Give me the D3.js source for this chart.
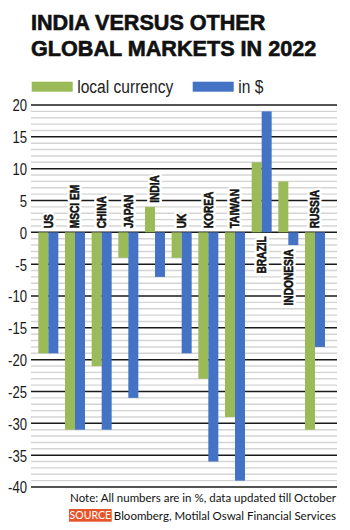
<!DOCTYPE html>
<html>
<head>
<meta charset="utf-8">
<script src="https://cdn.jsdelivr.net/npm/d3@7"></script>
<style>
  html, body { margin: 0; padding: 0; background: #fff; }
  svg { display: block; }
</style>
</head>
<body>
<svg id="chart" width="350" height="530"></svg>
<script>
// Market returns in 2022 (%), local currency vs US dollar terms
const markets = ["US", "MSCI EM", "CHINA", "JAPAN", "INDIA", "UK", "KOREA", "TAIWAN", "BRAZIL", "INDONESIA", "RUSSIA"];
const localCurrency = [-19, -31, -21, -4, 4, -4, -23, -29, 11, 8, -31];
const inDollars = [-19, -31, -31, -26, -7, -19, -36, -39, 19, -2, -18];
const seriesNames = ["local currency", "in $"];
const yTicks = [20, 15, 10, 5, 0, -5, -10, -15, -20, -25, -30, -35, -40];

const colors = { green: "#9bbb59", blue: "#4472c4" };
const sans = "'Liberation Sans', Arial, sans-serif";
const narrow = 0.82; // horizontal squeeze for a condensed look

const svg = d3.select("#chart");

// Title
const title = svg.append("g")
  .attr("font-family", sans)
  .attr("font-weight", "bold")
  .attr("font-size", 21.6)
  .attr("fill", "#111")
  .attr("stroke", "#111")
  .attr("stroke-width", 0.6);
title.append("text").attr("x", 31).attr("y", 30).text("INDIA VERSUS OTHER");
title.append("text").attr("x", 31).attr("y", 56).text("GLOBAL MARKETS IN 2022");

// Legend
const legend = svg.append("g").attr("font-family", sans).attr("font-size", 19).attr("fill", "#222");
const legendX = [31.7, 192.7];
seriesNames.forEach((name, i) => {
  legend.append("rect")
    .attr("x", legendX[i]).attr("y", 81.7)
    .attr("width", 41).attr("height", 10)
    .attr("fill", i === 0 ? colors.green : colors.blue);
  legend.append("text")
    .attr("transform", `translate(${legendX[i] + 45.5},93) scale(${narrow},1)`)
    .text(name);
});

// Scales
const y = d3.scaleLinear().domain([-40, 20]).range([487, 105]);
const x = d3.scaleBand().domain(markets).range([35, 328.33]).paddingInner(0.25).paddingOuter(0.125);
const xSeries = d3.scaleBand().domain(seriesNames).range([0, x.bandwidth()]);

const gridLeft = 31, gridRight = 337;

// Minor gridlines at every unit, major every 5
const minor = d3.range(-40, 21).filter(v => v % 5 !== 0);
svg.append("g").selectAll("line").data(minor).join("line")
  .attr("x1", gridLeft).attr("x2", gridRight)
  .attr("y1", d => y(d)).attr("y2", d => y(d))
  .attr("stroke", "#d4d4d4").attr("stroke-width", 1.4);

svg.append("g").selectAll("line").data(yTicks).join("line")
  .attr("x1", gridLeft).attr("x2", gridRight)
  .attr("y1", d => y(d)).attr("y2", d => y(d))
  .attr("stroke", "#1a1a1a").attr("stroke-width", 1.5);

// Y axis tick labels
const yAxis = svg.append("g")
  .attr("transform", `translate(${gridLeft},0)`)
  .call(d3.axisLeft(y).tickValues(yTicks).tickSize(0).tickPadding(0).tickFormat(d => d < 0 ? "-" + Math.abs(d) : d));
yAxis.select(".domain").remove();
yAxis.selectAll(".tick text")
  .attr("x", null).attr("dy", null)
  .attr("transform", `translate(-4,0.5) scale(${narrow},1)`)
  .attr("dominant-baseline", "central")
  .attr("font-family", sans)
  .attr("font-size", 16)
  .attr("fill", "#1a1a1a");

// Market labels: a white halo copy cuts through the gridlines, then the heavy text on top
const labelG = svg.append("g")
  .attr("font-family", sans)
  .attr("font-weight", "bold")
  .attr("font-size", 12.4);

markets.forEach((m, i) => {
  const vals = [localCurrency[i], inDollars[i]];
  const cx = x(m) + x.bandwidth() / 2;
  const below = d3.sum(vals) > 0;
  const yPos = below ? y(Math.min(0, d3.min(vals))) + 4 : y(Math.max(0, d3.max(vals))) - 4;
  [["#fff", 5.5], ["#111", 0.55]].forEach(([stroke, sw]) => {
    labelG.append("text")
      .attr("transform", `translate(${cx},${yPos}) rotate(-90) scale(${narrow},1)`)
      .attr("text-anchor", below ? "end" : "start")
      .attr("dy", "0.36em")
      .attr("fill", stroke === "#fff" ? "#fff" : "#111")
      .attr("stroke", stroke).attr("stroke-width", sw)
      .attr("stroke-linejoin", "round")
      .text(m);
  });
});

// Bars
const barG = svg.append("g");
const seriesData = [localCurrency, inDollars];
seriesData.forEach((vals, s) => {
  barG.append("g").selectAll("rect")
    .data(markets.map((m, i) => ({ m, v: vals[i] })))
    .join("rect")
    .attr("x", d => x(d.m) + xSeries(seriesNames[s]))
    .attr("width", xSeries.bandwidth())
    .attr("y", d => y(Math.max(0, d.v)))
    .attr("height", d => Math.abs(y(d.v) - y(0)))
    .attr("fill", s === 0 ? colors.green : colors.blue);
});

// Footer
const footFont = "Lato, 'Open Sans', sans-serif";
svg.append("text")
  .attr("x", 336).attr("y", 502)
  .attr("text-anchor", "end")
  .attr("font-family", footFont).attr("font-size", 11.5).attr("fill", "#111")
  .text("Note: All numbers are in %, data updated till October");
svg.append("rect")
  .attr("x", 69).attr("y", 509).attr("width", 42.7).attr("height", 12.7)
  .attr("fill", "#e8542a");
svg.append("text")
  .attr("x", 90.3).attr("y", 519)
  .attr("text-anchor", "middle")
  .attr("font-family", footFont).attr("font-size", 10.5).attr("fill", "#fff")
  .text("SOURCE");
svg.append("text")
  .attr("x", 336).attr("y", 519.5)
  .attr("text-anchor", "end")
  .attr("font-family", footFont).attr("font-size", 11.5).attr("fill", "#111")
  .text("Bloomberg, Motilal Oswal Financial Services");
</script>
</body>
</html>
